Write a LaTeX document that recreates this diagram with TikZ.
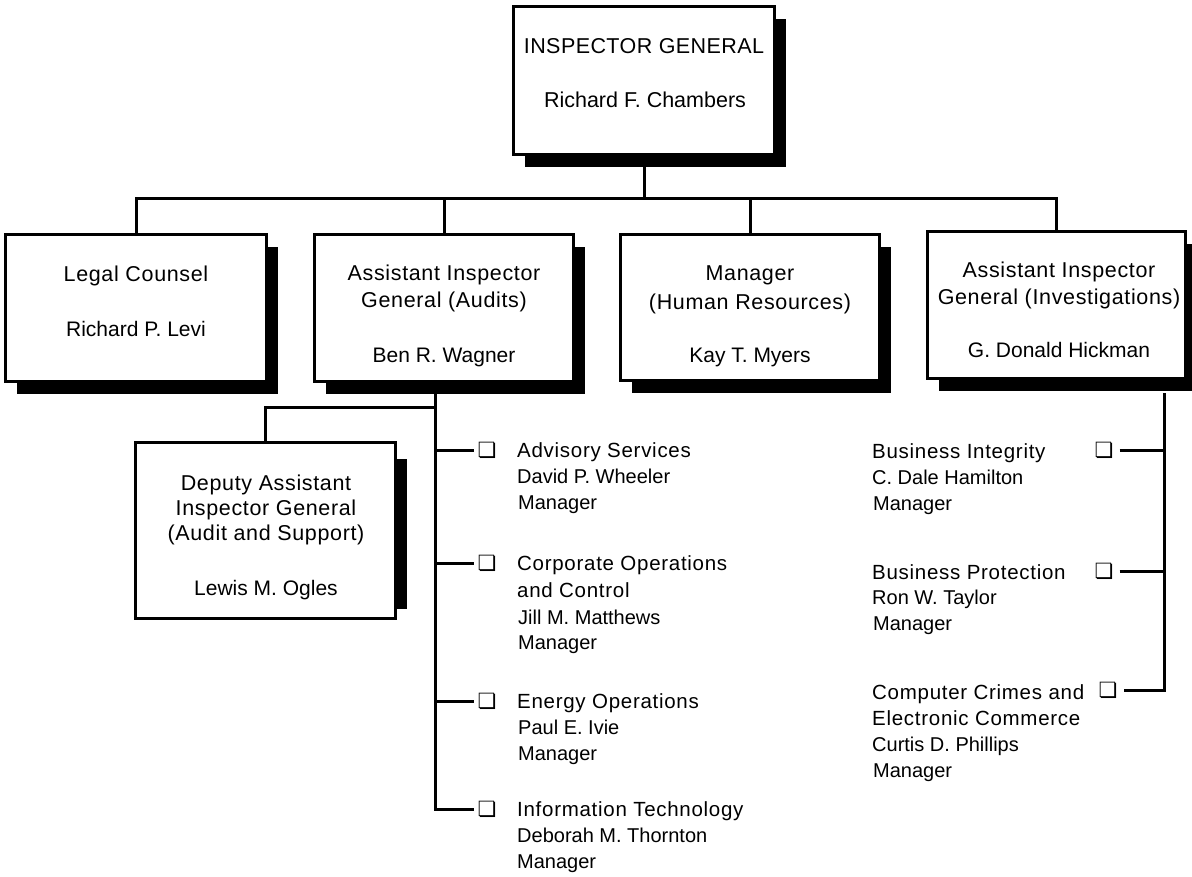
\documentclass[tikz,border=0pt]{standalone}
\usepackage{fontspec}
\setmainfont{Liberation Sans}
\newfontfamily\topttlfont[LetterSpace=2]{Liberation Sans}
\newfontfamily\boxttlfont[LetterSpace=3]{Liberation Sans}
\newfontfamily\itemttlfont[LetterSpace=3.5]{Liberation Sans}
\newfontfamily\dingfont{DejaVu Sans}
\usetikzlibrary{shadows}
\begin{document}
\begin{tikzpicture}[x=1pt,y=-1pt,
  box/.style={draw, line width=3pt, fill=white, inner sep=0pt,
    drop shadow={shadow xshift=11pt, shadow yshift=-12pt, fill=black, opacity=1}},
  plainbox/.style={draw, line width=3pt, fill=white, inner sep=0pt},
  topttl/.style={font=\topttlfont\fontsize{21.5}{26}\selectfont, inner sep=0pt, anchor=base},
  topname/.style={font=\fontsize{21.5}{26}\selectfont, inner sep=0pt, anchor=base},
  boxttl/.style={font=\boxttlfont\fontsize{21.5}{25}\selectfont, inner sep=0pt, anchor=base},
  boxname/.style={font=\fontsize{21}{25}\selectfont, inner sep=0pt, anchor=base},
  itemttl/.style={font=\itemttlfont\fontsize{20.5}{24}\selectfont, inner sep=0pt, anchor=base west},
  itemname/.style={font=\fontsize{20}{24}\selectfont, inner sep=0pt, anchor=base west},
  cbl/.style={font=\dingfont\fontsize{21}{24}\selectfont, inner xsep=3pt, inner ysep=0pt},
  cbr/.style={font=\dingfont\fontsize{21}{24}\selectfont, inner xsep=6pt, inner ysep=0pt},
  wire/.style={line width=3pt}]
\useasboundingbox (0,0) rectangle (1192,876);

% boxes
\node[box, minimum width=261pt, minimum height=148pt] (top) at (644,80.5) {};
\node[box, minimum width=261pt, minimum height=147pt] (legal) at (136,308) {};
\node[box, minimum width=259pt, minimum height=147pt] (audits) at (444,308) {};
\node[box, minimum width=259pt, minimum height=146pt] (hr) at (750,307.5) {};
\node[box, minimum width=258pt, minimum height=147pt] (inv) at (1056.5,305) {};
\fill (397,459) rectangle (407,609);
\node[plainbox, minimum width=260pt, minimum height=176pt] (dep) at (265.5,530.5) {};

% box texts
\node[topttl] (tgt) at (644,53) {INSPECTOR GENERAL};
\node[topname] (tgn) at (645,107) {Richard F. Chambers};

\node[boxttl] (lct) at (136,281.5) {Legal Counsel};
\node[boxname] (lcn) at (136,336.5) {Richard P. Levi};

\node[boxttl] (aut1) at (444,280.5) {Assistant Inspector};
\node[boxttl] (aut2) at (444,307.5) {General (Audits)};
\node[boxname] (aun) at (444,362.5) {Ben R. Wagner};

\node[boxttl] (hrt1) at (750,280.5) {Manager};
\node[boxttl] (hrt2) at (750,309.5) {(Human Resources)};
\node[boxname] (hrn) at (750,362.5) {Kay T. Myers};

\node[boxttl] (ivt1) at (1059,277.5) {Assistant Inspector};
\node[boxttl] (ivt2) at (1059,304.5) {General (Investigations)};
\node[boxname] (ivn) at (1059,357.5) {G. Donald Hickman};

\node[boxttl] (dpt1) at (266,490.5) {Deputy Assistant};
\node[boxttl] (dpt2) at (266,515.5) {Inspector General};
\node[boxttl] (dpt3) at (266,540.5) {(Audit and Support)};
\node[boxname] (dpn) at (266,595.5) {Lewis M. Ogles};

% top level connectors
\coordinate (bus) at (0,198);
\draw[wire] (top.south) -- (top.south |- bus);
\draw[wire] (legal.north) -- (legal.north |- bus) -- (inv.north |- bus) -- (inv.north);
\draw[wire] (audits.north) -- (audits.north |- bus);
\draw[wire] (hr.north) -- (hr.north |- bus);

% audits sub-units
\node[cbl] (cbas) at (487,450) {❏};
\node[cbl] (cbco) at (487,563) {❏};
\node[cbl] (cben) at (487,701) {❏};
\node[cbl] (cbit) at (487,809) {❏};
\coordinate (av) at (435,393);
\coordinate (dj) at (435,407);
\draw[wire] (av) |- (cbit.west);
\draw[wire] (dj) -| (dep.north);
\draw[wire] (av |- cbas.west) -- (cbas.west);
\draw[wire] (av |- cbco.west) -- (cbco.west);
\draw[wire] (av |- cben.west) -- (cben.west);

\node[itemttl] (as1) at (517,457) {Advisory Services};
\node[itemname] (as2) at (517,483) {David P. Wheeler};
\node[itemname] (as3) at (518,509) {Manager};

\node[itemttl] (co1) at (517,570) {Corporate Operations};
\node[itemttl] (co2) at (517,597) {and Control};
\node[itemname] (co3) at (518,624) {Jill M. Matthews};
\node[itemname] (co4) at (518,649) {Manager};

\node[itemttl] (en1) at (517,708) {Energy Operations};
\node[itemname] (en2) at (518,734) {Paul E. Ivie};
\node[itemname] (en3) at (518,760) {Manager};

\node[itemttl] (it1) at (517,816) {Information Technology};
\node[itemname] (it2) at (517,842) {Deborah M. Thornton};
\node[itemname] (it3) at (517,868) {Manager};

% investigations sub-units
\node[cbr] (cbbi) at (1104,450) {❏};
\node[cbr] (cbbp) at (1104,571) {❏};
\node[cbr] (cbcc) at (1108,690) {❏};
\coordinate (iv) at (1164,393);
\draw[wire] (iv) |- (cbcc.east);
\draw[wire] (cbbi.east) -- (cbbi.east -| iv);
\draw[wire] (cbbp.east) -- (cbbp.east -| iv);

\node[itemttl] (bi1) at (872,458) {Business Integrity};
\node[itemname] (bi2) at (872,484) {C. Dale Hamilton};
\node[itemname] (bi3) at (873,510) {Manager};

\node[itemttl] (bp1) at (872,579) {Business Protection};
\node[itemname] (bp2) at (872,604) {Ron W. Taylor};
\node[itemname] (bp3) at (873,630) {Manager};

\node[itemttl] (cc1) at (872,699) {Computer Crimes and};
\node[itemttl] (cc2) at (872,725) {Electronic Commerce};
\node[itemname] (cc3) at (872,751) {Curtis D. Phillips};
\node[itemname] (cc4) at (873,777) {Manager};
\end{tikzpicture}
\end{document}
